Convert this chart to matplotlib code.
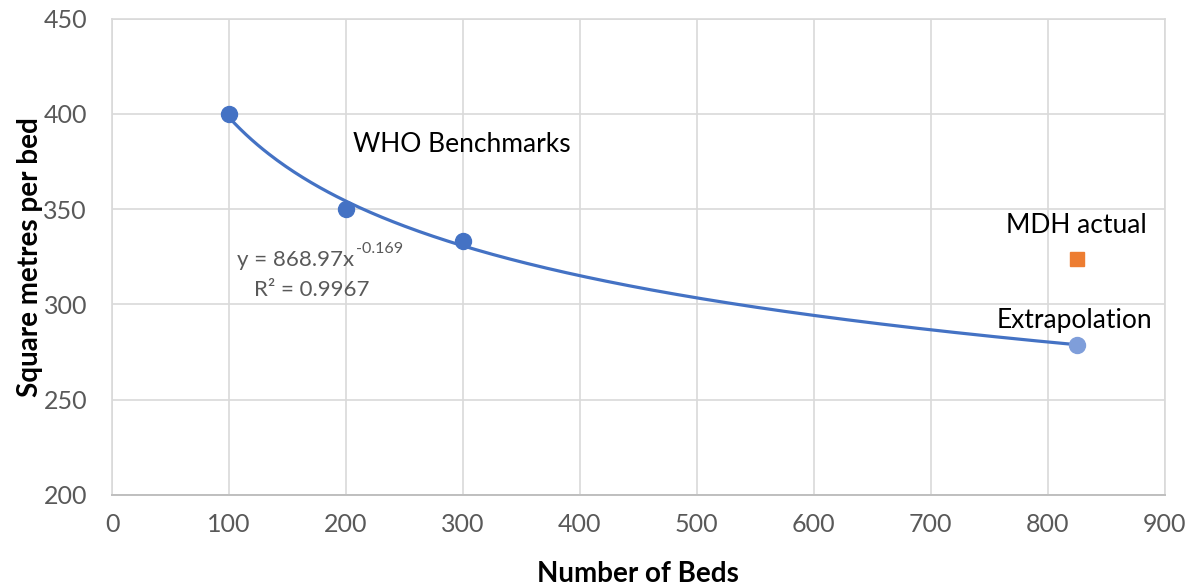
import numpy as np
import matplotlib
matplotlib.use("Agg")
import matplotlib.pyplot as plt
from matplotlib.transforms import offset_copy

# WHO benchmark points
who_beds = [100, 200, 300]
who_area = [400, 350, 333.3]
# extrapolated point and MDH actual
extrap_beds = [825]
extrap_area = [278.5]
mdh_beds = [825]
mdh_area = [324]

plt.rcParams['font.family'] = ['Lato', 'DejaVu Sans']
plt.rcParams['axes.unicode_minus'] = False

# power trendline fitted in log space
b, log_a = np.polyfit(np.log(who_beds), np.log(who_area), 1)
xs = np.linspace(100, 825, 300)
ys = np.exp(log_a) * xs ** b

fig = plt.figure(figsize=(11.92, 5.87), dpi=100)
ax = fig.add_axes([0.094, 0.157, 0.883, 0.811])

ax.plot(xs, ys, color='#4472C4', lw=2.3, zorder=3)
ax.plot(who_beds, who_area, 'o', color='#4472C4', ms=11.5, zorder=4)
ax.plot(extrap_beds, extrap_area, 'o', color='#7F9EDA', ms=11.5, zorder=4)
ax.plot(mdh_beds, mdh_area, 's', color='#ED7D31', ms=10, zorder=4)

ax.set_xlim(0, 900)
ax.set_ylim(200, 450)
ax.set_xticks(range(0, 901, 100))
ax.set_yticks(range(200, 451, 50))
ax.grid(True, color='#D9D9D9', lw=1.2)
ax.set_axisbelow(True)
for s in ['top', 'right', 'left']:
    ax.spines[s].set_color('#D9D9D9')
    ax.spines[s].set_linewidth(1.2)
ax.spines['bottom'].set_color('#BFBFBF')
ax.spines['bottom'].set_linewidth(1.4)
ax.tick_params(length=0, labelsize=18, labelcolor='#595959')
ax.tick_params(axis='y', pad=18)
ax.tick_params(axis='x', pad=13)

ax.set_xlabel('Number of Beds', fontsize=20, fontweight='bold', labelpad=18)
ax.set_ylabel('Square metres per bed', fontsize=20, fontweight='bold', labelpad=0)

ax.text(299, 384, 'WHO Benchmarks', fontsize=19, ha='center', va='center')

# trendline equation with a plain-text superscript
eq = ax.text(107, 323.5, 'y = 868.97x', fontsize=16, color='#595959',
             ha='left', va='center')
fig.canvas.draw()
bb = eq.get_window_extent()
x_end = ax.transData.inverted().transform((bb.x1, 0))[0]
ax.text(x_end, 323.5, '-0.169', fontsize=11.5, color='#595959', ha='left',
        va='center', transform=offset_copy(ax.transData, fig=fig, x=1, y=8, units='points'))

ax.text(171, 307.5, 'R² = 0.9967', fontsize=16, color='#595959',
        ha='center', va='center')
ax.text(825, 341.5, 'MDH actual', fontsize=19, ha='center', va='center')
ax.text(823, 291.5, 'Extrapolation', fontsize=19, ha='center', va='center')

fig.savefig('out.png', dpi=100)
